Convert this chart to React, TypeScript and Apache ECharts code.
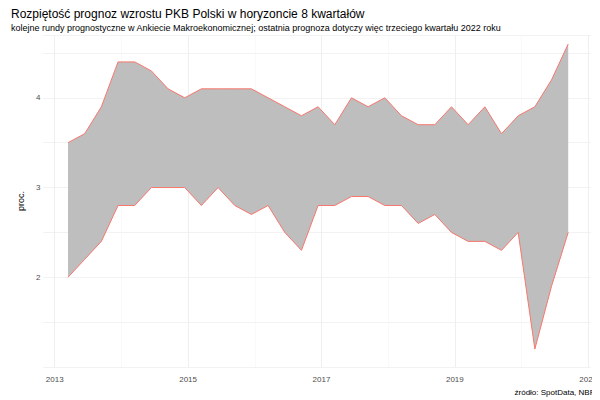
import { useEffect, useRef } from "react";
import * as echarts from "echarts";

// survey dates as decimal years (quarterly)
const dates: number[] = Array.from({ length: 31 }, (_, i) => 2013.2 + i * 0.25);
const upper = [3.5, 3.6, 3.9, 4.4, 4.4, 4.3, 4.1, 4.0, 4.1, 4.1, 4.1, 4.1, 4.0, 3.9, 3.8, 3.9, 3.7, 4.0, 3.9, 4.0, 3.8, 3.7, 3.7, 3.9, 3.7, 3.9, 3.6, 3.8, 3.9, 4.2, 4.6];
const lower = [2.0, 2.2, 2.4, 2.8, 2.8, 3.0, 3.0, 3.0, 2.8, 3.0, 2.8, 2.7, 2.8, 2.5, 2.3, 2.8, 2.8, 2.9, 2.9, 2.8, 2.8, 2.6, 2.7, 2.5, 2.4, 2.4, 2.3, 2.5, 1.2, 1.9, 2.5];
const yearTicks = [2013, 2015, 2017, 2019, 2021];
const minorYears = [2014, 2016, 2018, 2020];

export default function App() {
  const ref = useRef<HTMLDivElement>(null);
  useEffect(() => {
    if (!ref.current) return;
    const chart = echarts.init(ref.current, null, { renderer: "svg" });
    const font = "Liberation Sans";
    chart.setOption({
      animation: false,
      textStyle: { fontFamily: font },
      title: [
        { text: "Rozpiętość prognoz wzrostu PKB Polski w horyzoncie 8 kwartałów", left: -2, top: -5, textStyle: { fontSize: 12, fontWeight: "normal", color: "#000" } },
        { text: "kolejne rundy prognostyczne w Ankiecie Makroekonomicznej; ostatnia prognoza dotyczy więc trzeciego kwartału 2022 roku", left: -2, top: 10, textStyle: { fontSize: 9, fontWeight: "normal", color: "#000" } },
        { text: "źródło: SpotData, NBP", right: 0, top: 375, textStyle: { fontSize: 8, fontWeight: "normal", color: "#000" } },
      ],
      grid: { left: 13, right: 0, top: 27, bottom: 33 },
      xAxis: {
        type: "value",
        min: 2012.83,
        max: 2021.04,
        axisLine: { show: false },
        axisTick: { show: false },
        splitLine: { show: false },
        axisLabel: { customValues: yearTicks, color: "#4d4d4d", fontSize: 8, formatter: (v: number) => String(v) },
      },
      yAxis: {
        type: "value",
        min: 1,
        max: 4.7,
        interval: 0.5,
        name: "proc.",
        nameLocation: "middle",
        nameGap: 10,
        nameTextStyle: { fontSize: 9, color: "#000", fontWeight: "normal" },
        axisLine: { show: false },
        axisTick: { show: false },
        axisLabel: { color: "#4d4d4d", fontSize: 8, margin: 3, formatter: (v: number) => (Number.isInteger(v) && v > 1 ? String(v) : "") },
        splitLine: { lineStyle: { color: "#efefef", width: 0.8 } },
      },
      series: [
        {
          type: "custom",
          data: dates.map((d, i) => [d, lower[i], upper[i]]),
          z: 2,
          renderItem: (params: any, api: any) => {
            if (params.dataIndex !== 0) return null;
            const top = dates.map((d, i) => api.coord([d, upper[i]]));
            const bot = dates.map((d, i) => api.coord([d, lower[i]])).reverse();
            return {
              type: "polygon",
              shape: { points: [...top, ...bot] },
              style: { fill: "#bebebe", stroke: "none" },
            };
          },
          markLine: {
            silent: true,
            symbol: "none",
            label: { show: false },
            z: 1,
            data: [
              ...yearTicks.map((y) => ({ xAxis: y, lineStyle: { color: "#ebebeb", width: 0.8, type: "solid" } })),
              ...minorYears.map((y) => ({ xAxis: y, lineStyle: { color: "#f5f5f5", width: 0.6, type: "solid" } })),
            ],
          },
        },
        {
          type: "line",
          data: dates.map((d, i) => [d, upper[i]]),
          symbol: "none",
          lineStyle: { color: "#f8766d", width: 1 },
          z: 3,
        },
        {
          type: "line",
          data: dates.map((d, i) => [d, lower[i]]),
          symbol: "none",
          lineStyle: { color: "#f8766d", width: 1 },
          z: 3,
        },
      ],
    });
    return () => chart.dispose();
  }, []);
  return <div ref={ref} style={{ width: 592, height: 392 }} />;
}
